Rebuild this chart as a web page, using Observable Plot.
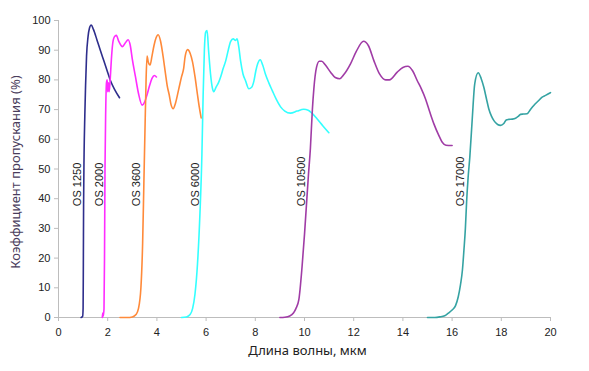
<!DOCTYPE html>
<html><head><meta charset="utf-8">
<script src="https://cdn.jsdelivr.net/npm/d3@7"></script>
<script src="https://cdn.jsdelivr.net/npm/@observablehq/plot@0.6"></script>
<style>body{margin:0;background:#fff}</style>
</head><body><div id="chart"></div>
<script>
const os1250 = [[0.92,0],[0.98,0.3],[1.0,3],[1.01,18],[1.02,38],[1.04,55],[1.07,68],[1.1,78],[1.14,88],[1.2,94.5],[1.26,97.5],[1.33,98.5],[1.42,97],[1.57,93.3],[1.7,90],[1.84,86.5],[2.0,82.5],[2.11,79.8],[2.3,76.5],[2.48,74]];
const os2000 = [[1.78,0],[1.8,1.5],[1.82,0.5],[1.85,3],[1.87,20],[1.89,50],[1.92,70],[1.95,79],[1.98,80],[2.0,76],[2.03,79],[2.06,76],[2.1,80],[2.15,87],[2.2,92],[2.27,94.5],[2.35,95],[2.45,93],[2.6,91.2],[2.72,92.5],[2.83,93.5],[2.92,91.5],[3.0,87],[3.13,81],[3.25,75.5],[3.4,71.5],[3.5,72.5],[3.6,75],[3.7,78],[3.8,80.5],[3.9,81.5],[3.98,81]];
const os3600 = [[2.5,0],[2.8,0],[3.0,0.2],[3.15,1],[3.25,3],[3.35,10],[3.42,25],[3.47,45],[3.52,65],[3.56,80],[3.6,88],[3.65,86],[3.72,85],[3.8,88],[3.88,91.5],[3.96,94],[4.05,95.2],[4.15,93],[4.25,88],[4.35,82],[4.42,78],[4.5,75],[4.58,71.5],[4.66,70.3],[4.75,72],[4.89,77],[5.0,81],[5.09,84],[5.15,88],[5.25,90.2],[5.35,89],[5.45,86],[5.55,81],[5.65,75],[5.72,71],[5.8,67.2]];
const os6000 = [[5.0,0],[5.2,0.2],[5.35,1],[5.45,3],[5.55,8],[5.65,18],[5.75,35],[5.83,55],[5.88,75],[5.93,90],[5.98,96],[6.04,96.6],[6.1,90],[6.18,82],[6.25,77.5],[6.31,76],[6.4,77.5],[6.5,79],[6.59,81],[6.7,84],[6.8,86.5],[6.9,90],[7.0,93],[7.1,93.8],[7.2,93.3],[7.26,93.8],[7.33,91],[7.4,86.5],[7.5,82],[7.6,79.8],[7.74,77],[7.85,77.5],[7.94,79.5],[8.02,83],[8.1,85.5],[8.2,86.8],[8.3,85],[8.41,82],[8.55,79],[8.69,76.4],[8.85,73.5],[9.02,71],[9.2,69.5],[9.43,68.8],[9.7,69.5],[9.97,70.1],[10.15,69.8],[10.3,68.8],[10.5,67],[10.75,64.5],[10.99,62.2]];
const os10500 = [[9.0,0],[9.2,0.1],[9.4,0.5],[9.55,1.5],[9.65,3],[9.77,6],[9.9,17],[10.0,28],[10.08,38],[10.16,48],[10.24,57],[10.32,70],[10.38,77],[10.49,84.3],[10.6,86.3],[10.7,86.3],[10.85,85],[11.06,82.6],[11.25,80.8],[11.43,80.4],[11.6,81.8],[11.87,85.4],[12.1,89.5],[12.4,93],[12.6,91.5],[12.82,86.5],[13.05,82],[13.3,80],[13.45,80],[13.77,82.6],[14.0,84.2],[14.2,84.6],[14.4,83],[14.58,79.8],[14.75,77],[14.92,73.6],[15.1,69],[15.26,65.2],[15.45,61.5],[15.6,59],[15.75,58],[16.0,57.9]];
const os17000 = [[15.0,0],[15.3,0],[15.5,0.2],[15.7,0.6],[15.85,1.5],[16.0,2.5],[16.14,4],[16.25,7],[16.34,11],[16.42,16],[16.48,22.6],[16.54,30],[16.59,39],[16.65,47],[16.72,54],[16.82,67],[16.92,78.7],[17.06,82.4],[17.18,80.5],[17.29,77.5],[17.4,73.5],[17.49,70.3],[17.6,67.8],[17.7,66.3],[17.85,65],[17.97,64.7],[18.1,65.3],[18.2,66.5],[18.3,66.7],[18.45,66.8],[18.58,67.1],[18.7,67.8],[18.78,68.4],[18.9,68.5],[19.05,68.6],[19.2,70.2],[19.32,71.4],[19.5,72.9],[19.66,74.2],[19.8,74.8],[20.0,75.7]];

const seriesNames = ["OS 1250","OS 2000","OS 3600","OS 6000","OS 10500","OS 17000"];
const seriesColors = ["#2e2e8c","#ff2cff","#ff8a3a","#33ffff","#a03ca6","#35a3a3"];
const labelX = [0.78, 1.65, 3.17, 5.57, 9.87, 16.34];
const labelY = 37.5;
const xTicks = [0,2,4,6,8,10,12,14,16,18,20];
const yTicks = [0,10,20,30,40,50,60,70,80,90,100];
const xTitle = "Длина волны, мкм";
const yTitle = "Коэффициент пропускания (%)";

const seriesData = [os1250, os2000, os3600, os6000, os10500, os17000];
const rows = [];
seriesData.forEach((s, i) => s.forEach(([x, y]) => rows.push({x, y, name: seriesNames[i]})));
const labels = seriesNames.map((n, i) => ({name: n, x: labelX[i], y: labelY}));

const chart = Plot.plot({
  width: 589, height: 371,
  marginLeft: 58, marginRight: 39, marginTop: 20, marginBottom: 54,
  style: {fontFamily: "'Liberation Sans', Arial, sans-serif", fontSize: "11px", color: "#222", background: "#fff"},
  x: {domain: [0, 20]},
  y: {domain: [0, 100]},
  color: {domain: seriesNames, range: seriesColors},
  marks: [
    Plot.ruleY([0], {stroke: "#bdbdbd"}),
    Plot.ruleX([0], {stroke: "#bdbdbd"}),
    Plot.axisX({ticks: xTicks, tickSize: 4, tickPadding: 7, stroke: "#bdbdbd", fill: "#222", label: null}),
    Plot.axisY({ticks: yTicks, tickSize: 4, tickPadding: 4, stroke: "#bdbdbd", fill: "#222", label: null}),
    Plot.line(rows, {x: "x", y: "y", z: "name", stroke: "name", strokeWidth: 1.6, curve: "monotone-x"}),
    Plot.text(labels, {x: "x", y: "y", text: "name", rotate: -90, textAnchor: "start", fontSize: 11, fill: "#222"}),
    Plot.text([xTitle], {frameAnchor: "bottom", textAnchor: "middle", lineAnchor: "middle", dy: 33, dx: 3, fontSize: 13, fontFamily: "'Noto Sans', sans-serif", fill: "#222"}),
    Plot.text([yTitle], {frameAnchor: "left", textAnchor: "middle", lineAnchor: "middle", dx: -43, dy: 3, rotate: -90, fontSize: 13, fontFamily: "'Noto Sans', sans-serif", fill: "#4a3d5c"})
  ]
});
document.getElementById("chart").appendChild(chart);
</script>
</body></html>
